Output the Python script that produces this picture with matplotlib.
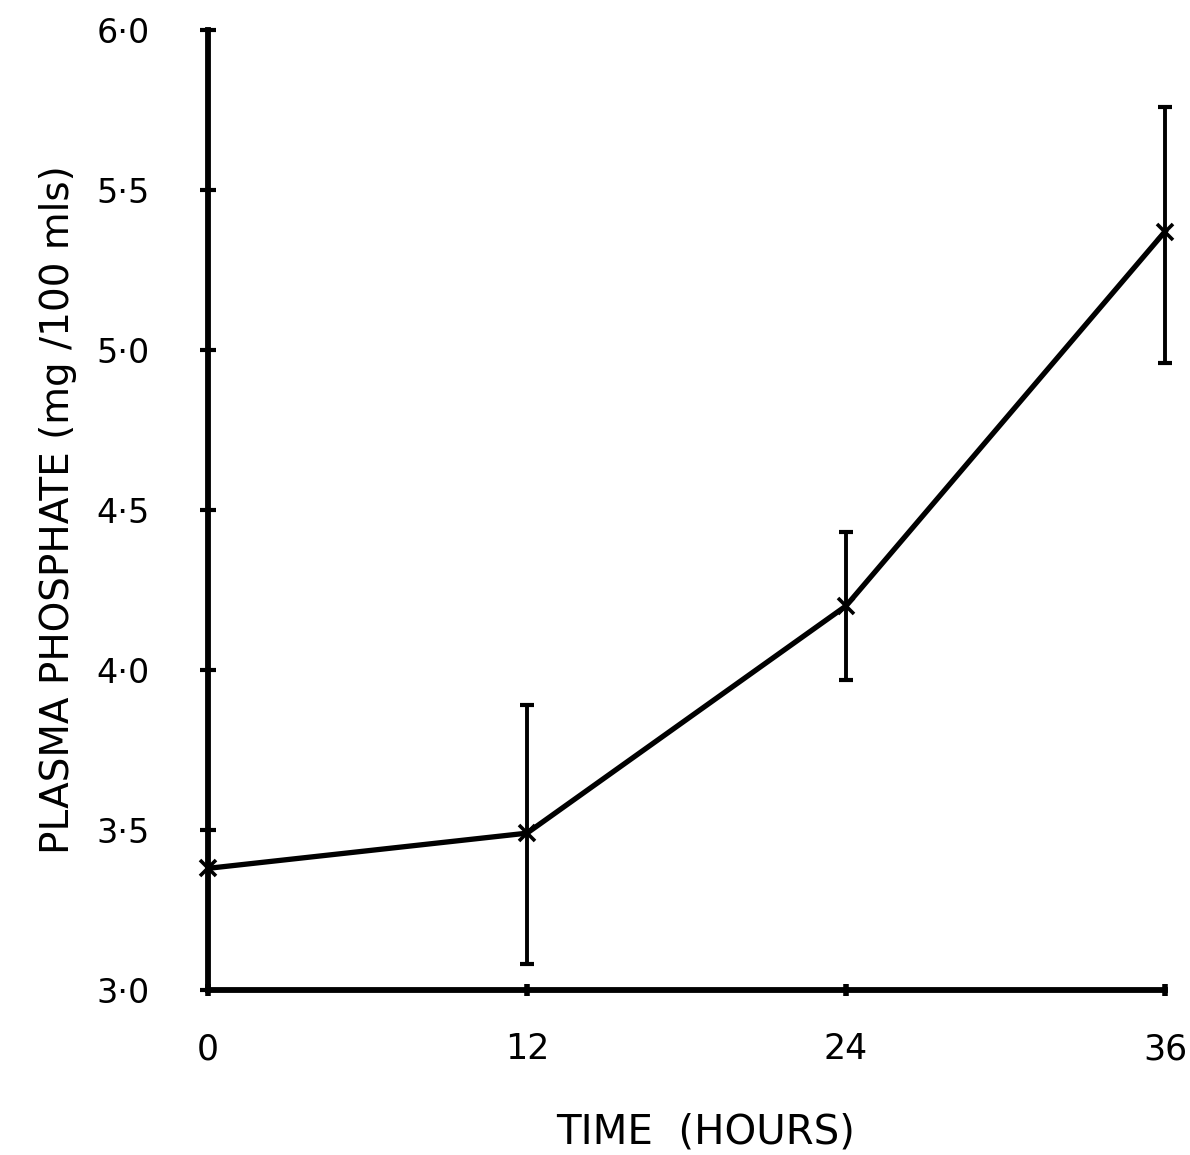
import matplotlib.pyplot as plt

# plasma phosphate over time, mean with error range
hours = [0, 12, 24, 36]
phosphate = [3.38, 3.49, 4.20, 5.37]
err_low = [3.38, 3.08, 3.97, 4.96]
err_high = [3.38, 3.89, 4.43, 5.76]

y_ticks = [3.0, 3.5, 4.0, 4.5, 5.0, 5.5, 6.0]
y_labels = ["3·0", "3·5", "4·0", "4·5", "5·0", "5·5", "6·0"]
x_ticks = [0, 12, 24, 36]

fig = plt.figure(figsize=(11.9, 11.55), dpi=100)
ax = fig.add_axes([0.1748, 0.1429, 0.8042, 0.8312])

yerr = [[m - lo for m, lo in zip(phosphate, err_low)],
        [hi - m for m, hi in zip(phosphate, err_high)]]

# error bars only where there is a range
for h, m, lo, hi in zip(hours, phosphate, yerr[0], yerr[1]):
    if lo > 0 or hi > 0:
        ax.errorbar([h], [m], yerr=[[lo], [hi]], fmt="none", ecolor="black",
                    elinewidth=2.8, capsize=5, capthick=3, clip_on=False)

ax.plot(hours, phosphate, color="black", linewidth=3.8, marker="x",
        markersize=11, markeredgewidth=2.6, clip_on=False, zorder=3)

ax.set_xlim(0, 36)
ax.set_ylim(3.0, 6.0)

for side in ["top", "right"]:
    ax.spines[side].set_visible(False)
for side in ["left", "bottom"]:
    ax.spines[side].set_linewidth(4.2)

ax.set_yticks(y_ticks)
ax.set_yticklabels(y_labels)
ax.set_xticks(x_ticks)
ax.set_xticklabels([str(h) for h in x_ticks])

ax.tick_params(axis="y", direction="inout", length=12, width=3, pad=36,
               labelsize=24)
ax.tick_params(axis="x", direction="inout", length=9, width=4, pad=26,
               labelsize=25)

ax.set_xlabel("TIME  (HOURS)", fontsize=29)
ax.xaxis.set_label_coords(0.52, -0.128)
ax.set_ylabel("PLASMA PHOSPHATE (mg /100 mls)", fontsize=28, labelpad=14)

fig.savefig("out.png", dpi=100)
